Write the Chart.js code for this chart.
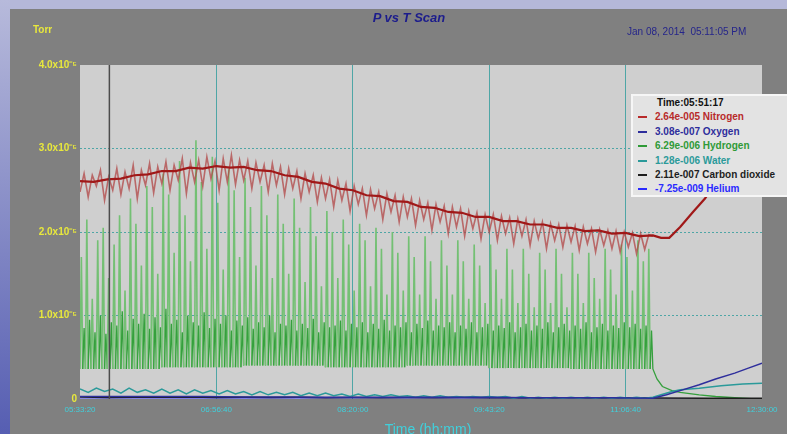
<!DOCTYPE html>
<html lang="en">
<head>
<meta charset="UTF-8">
<title>P vs T Scan</title>
<script src="https://cdn.jsdelivr.net/npm/chart.js"></script>
<style>
    body {
        margin: 0;
        width: 787px;
        height: 434px;
        overflow: hidden;
        position: relative;
        background: #b5b8d9;
        font-family: "Liberation Sans", Arial, sans-serif;
    }
    #edge {
        position: absolute; left: 0; top: 0; width: 10px; height: 434px;
        background: linear-gradient(#b7badb, #565eb2);
    }
    #panel {
        position: absolute; left: 10px; top: 9px; width: 777px; height: 425px;
        background: #808080;
    }
    #title {
        position: absolute; left: 409px; top: 10px; transform: translateX(-50%);
        font-size: 13px; font-weight: bold; font-style: italic; color: #1c1c8c;
        white-space: nowrap;
    }
    #unit {
        position: absolute; left: 33px; top: 24px;
        font-size: 10px; font-weight: bold; color: #e8e83c;
    }
    #stamp {
        position: absolute; left: 627px; top: 26px;
        font-size: 10px; color: #25258a; white-space: pre;
    }
    #xtitle {
        position: absolute; left: 428px; top: 421px; transform: translateX(-50%);
        font-size: 14px; color: #3fd0dc; white-space: nowrap;
    }
    #legend {
        position: absolute; left: 631px; top: 94px; width: 170px; height: 103px;
        box-sizing: border-box; background: #e3e3e3; border: 2px solid #f6f6f6;
        font-size: 10px; font-weight: bold; line-height: 14.4px;
    }
    #legend .row { position: relative; padding-left: 22px; white-space: nowrap; }
    #legend .row.time { padding-left: 24px; color: #111; }
    #legend .dash { position: absolute; left: 5px; top: 6px; width: 9px; height: 2px; }
</style>
</head>
<body>
<div id="edge"></div>
<div id="panel"><canvas id="scan"></canvas></div>
<div id="title">P vs T Scan</div>
<div id="unit">Torr</div>
<div id="stamp">Jan 08, 2014  05:11:05 PM</div>
<div id="xtitle">Time (hh:mm)</div>
<div id="legend"></div>

<script>
// x values are seconds after 05:33:20, y values are in units of 1e-5 Torr
var tickLabels = ['05:33:20', '06:56:40', '08:20:00', '09:43:20', '11:06:40', '12:30:00'];
var yTickLabels = ['0', '1.0x10\u207B\u2075', '2.0x10\u207B\u2075', '3.0x10\u207B\u2075', '4.0x10\u207B\u2075'];
var cursorTime = 1077; // 05:51:17

var legendTime = 'Time:05:51:17';
var legendNames = ['Nitrogen', 'Oxygen', 'Hydrogen', 'Water', 'Carbon dioxide', 'Helium'];
var legendValues = ['2.64e-005', '3.08e-007', '6.29e-006', '1.28e-006', '2.11e-007', '-7.25e-009'];
var legendColors = ['#b82a2a', '#2e2e9c', '#2f9a37', '#2b9a9a', '#1e1e1e', '#2b2bff'];

// nitrogen: slow trend, every 500 s
var n2Trend = [2.61, 2.60, 2.63, 2.64, 2.68, 2.69, 2.73, 2.73, 2.77, 2.76,
               2.79, 2.77, 2.78, 2.74, 2.73, 2.68, 2.66, 2.60, 2.58, 2.52,
               2.50, 2.44, 2.43, 2.37, 2.36, 2.30, 2.29, 2.24, 2.23, 2.18,
               2.18, 2.13, 2.13, 2.09, 2.09, 2.05, 2.05, 2.01, 2.02, 1.98,
               1.99, 1.95, 1.96];
var n2TailTimes  = [21300, 21600, 22000, 22470, 22910, 23320, 23830, 24380, 25000];
var n2TailValues = [1.93, 1.93, 2.06, 2.24, 2.40, 2.60, 2.90, 3.25, 3.60];
// nitrogen: scatter around the trend, every 150 s
var n2Noise = [2.48, 2.70, 2.42, 2.68, 2.55, 2.74, 2.38, 2.66, 2.50, 2.76,
               2.45, 2.72, 2.52, 2.80, 2.40, 2.74, 2.56, 2.82, 2.47, 2.78,
               2.58, 2.84, 2.50, 2.80, 2.62, 2.88, 2.46, 2.83, 2.60, 2.86,
               2.55, 2.90, 2.64, 2.85, 2.50, 2.88, 2.60, 2.92, 2.57, 2.86,
               2.62, 2.85, 2.52, 2.83, 2.60, 2.80, 2.48, 2.82, 2.56, 2.78,
               2.45, 2.76, 2.52, 2.73, 2.40, 2.70, 2.48, 2.68, 2.36, 2.65,
               2.40, 2.63, 2.30, 2.62, 2.38, 2.58, 2.25, 2.55, 2.33, 2.52,
               2.20, 2.51, 2.28, 2.48, 2.15, 2.46, 2.24, 2.44, 2.12, 2.42,
               2.18, 2.40, 2.08, 2.38, 2.15, 2.35, 2.02, 2.33, 2.12, 2.31,
               1.98, 2.30, 2.06, 2.28, 1.95, 2.25, 2.04, 2.23, 1.92, 2.21,
               2.00, 2.21, 1.90, 2.19, 1.98, 2.17, 1.86, 2.16, 1.95, 2.15,
               1.84, 2.13, 1.92, 2.12, 1.80, 2.10, 1.90, 2.09, 1.82, 2.08,
               1.88, 2.07, 1.78, 2.06, 1.86, 2.04, 1.76, 2.03, 1.84, 2.02,
               1.80, 2.01, 1.76, 2.00, 1.82, 1.99, 1.74, 1.98, 1.79, 1.97,
               1.95];

// hydrogen: one cycle every 200 s = floor, tall spike, floor, short spike
var h2Peak = [1.70, 2.15, 1.20, 1.90, 2.05, 1.45, 1.85, 2.20, 1.30, 2.40,
              2.10, 1.60, 2.55, 2.30, 1.50, 2.70, 2.45, 1.75, 2.85, 2.20,
              1.65, 3.10, 2.60, 1.80, 2.90, 2.35, 1.55, 2.75, 2.50, 1.70,
              2.65, 2.30, 1.60, 2.55, 2.20, 1.45, 2.45, 2.10, 1.50, 2.40,
              2.05, 1.40, 2.30, 1.95, 1.35, 2.25, 2.00, 1.45, 2.15, 1.85,
              1.30, 2.10, 1.90, 1.35, 2.05, 1.80, 1.25, 2.00, 1.75, 1.30,
              1.95, 1.70, 1.25, 1.95, 1.65, 1.20, 1.90, 1.60, 1.25, 1.90,
              1.65, 1.20, 1.85, 1.60, 1.15, 1.85, 1.55, 1.20, 1.80, 1.55,
              1.15, 1.80, 1.50, 1.10, 1.75, 1.55, 1.15, 1.80, 1.50, 1.10,
              1.75, 1.50, 1.15, 1.75, 1.45, 1.20, 1.80, 1.55, 1.25, 1.85,
              1.70, 1.30, 1.90, 1.65, 1.80];
var h2Mid = [0.85, 0.95, 0.80, 1.00, 0.78, 0.92, 0.88, 1.05, 0.82, 0.96,
             0.90, 1.02, 0.84, 0.98, 0.86, 1.08, 0.90, 0.95, 0.80, 1.00,
             0.92, 0.88, 1.04, 0.85, 0.96, 0.90, 1.00, 0.82, 0.94, 0.88,
             0.98, 0.84, 0.92, 0.86, 1.00, 0.80, 0.90, 0.88, 0.95, 0.82,
             0.90, 0.85, 0.96, 0.80, 0.92, 0.86, 0.88, 0.94, 0.82, 0.90,
             0.86, 0.92, 0.80, 0.90, 0.84, 0.95, 0.82, 0.88, 0.86, 0.92,
             0.80, 0.90, 0.85, 0.94, 0.82, 0.88, 0.86, 0.92, 0.80, 0.88,
             0.84, 0.92, 0.80, 0.86, 0.90, 0.82, 0.88, 0.85, 0.92, 0.80,
             0.86, 0.90, 0.82, 0.88, 0.84, 0.92, 0.80, 0.86, 0.90, 0.82,
             0.88, 0.84, 0.92, 0.80, 0.86, 0.90, 0.82, 0.88, 0.85, 0.92,
             0.86, 0.90, 0.84, 0.88, 0.82];
var h2Floor = [0.36, 0.38, 0.40, 0.38, 0.40, 0.37, 0.36]; // one per 15 cycles
var h2TailTimes  = [21000, 21150, 21350, 21700, 22000, 22700, 23300, 24000, 24600];
var h2TailValues = [0.36, 0.24, 0.15, 0.10, 0.08, 0.05, 0.03, 0.015, 0.005];

// water, every 300 s
var h2oValues = [0.12, 0.08, 0.13, 0.09, 0.12, 0.07, 0.13, 0.08, 0.11, 0.07,
                 0.12, 0.07, 0.11, 0.06, 0.11, 0.07, 0.10, 0.06, 0.10, 0.06,
                 0.09, 0.05, 0.09, 0.05, 0.08, 0.05, 0.08, 0.04, 0.07, 0.04,
                 0.07, 0.04, 0.06, 0.03, 0.06, 0.03, 0.05, 0.03, 0.05, 0.03,
                 0.04, 0.02, 0.04, 0.02, 0.04, 0.02, 0.03, 0.02, 0.03, 0.02,
                 0.03, 0.02, 0.03, 0.01, 0.03, 0.01, 0.02, 0.01, 0.02, 0.01,
                 0.02, 0.01, 0.02, 0.01, 0.02, 0.01, 0.02, 0.01, 0.02, 0.01,
                 0.02];
var h2oTailTimes  = [21300, 21700, 22000, 22700, 23500, 24300, 25000];
var h2oTailValues = [0.05, 0.09, 0.11, 0.13, 0.16, 0.18, 0.19];

// oxygen, every 1500 s
var o2Values = [0.03, 0.03, 0.03, 0.03, 0.025, 0.025, 0.02, 0.02, 0.02, 0.02,
                0.02, 0.015, 0.015, 0.015, 0.01];
var o2TailTimes  = [21500, 22000, 22700, 23300, 24000, 24500, 25000];
var o2TailValues = [0.05, 0.10, 0.17, 0.24, 0.31, 0.37, 0.43];

// carbon dioxide, every 1000 s
var co2Values = [0.025, 0.018, 0.022, 0.020, 0.024, 0.017, 0.021, 0.019, 0.020, 0.016,
                 0.019, 0.015, 0.018, 0.014, 0.017, 0.015, 0.016, 0.013, 0.015, 0.012,
                 0.014, 0.012];
var co2TailTimes  = [23000, 25000];
var co2TailValues = [0.010, 0.008];

// helium, every 5000 s
var heValues = [-0.001, 0.0, -0.001, 0.0, -0.001, 0.0];

function regular(values, step) {
    return values.map(function (v, i) { return { x: i * step, y: v }; });
}
function paired(times, values) {
    return times.map(function (t, i) { return { x: t, y: values[i] }; });
}

var h2Cycle = 200;
var h2Points = [];
h2Peak.forEach(function (p, i) {
    var t = i * h2Cycle;
    var floor = h2Floor[Math.floor(i / 15)];
    h2Points.push({ x: t, y: floor }, { x: t + 50, y: p }, { x: t + 100, y: floor }, { x: t + 150, y: h2Mid[i] });
});
h2Points = h2Points.concat(paired(h2TailTimes, h2TailValues));
var h2CycleCount = h2Peak.length * 4;
function isSpike(ctx) {
    return ctx.p0DataIndex < h2CycleCount && ctx.p0DataIndex % 4 < 2;
}

// legend box
var legendBox = document.getElementById('legend');
var timeRow = document.createElement('div');
timeRow.className = 'row time';
timeRow.textContent = legendTime;
legendBox.appendChild(timeRow);
legendNames.forEach(function (name, i) {
    var row = document.createElement('div');
    row.className = 'row';
    row.style.color = legendColors[i];
    var dash = document.createElement('span');
    dash.className = 'dash';
    dash.style.background = legendColors[i];
    row.appendChild(dash);
    row.appendChild(document.createTextNode(legendValues[i] + ' ' + name));
    legendBox.appendChild(row);
});

var plotBg = {
    id: 'plotBg',
    beforeDraw: function (chart) {
        var a = chart.chartArea, c = chart.ctx;
        c.save();
        c.fillStyle = '#cfcfcf';
        c.fillRect(a.left, a.top, a.right - a.left, a.bottom - a.top);
        c.restore();
    }
};
var cursorLine = {
    id: 'cursorLine',
    afterDatasetsDraw: function (chart) {
        var a = chart.chartArea, c = chart.ctx;
        var x = chart.scales.x.getPixelForValue(cursorTime);
        c.save();
        c.strokeStyle = '#4c4c4c';
        c.lineWidth = 1.5;
        c.beginPath();
        c.moveTo(x, a.top);
        c.lineTo(x, a.bottom);
        c.stroke();
        c.restore();
    }
};

Chart.defaults.font.family = '"Liberation Sans", Arial, sans-serif';

var canvas = document.getElementById('scan');
canvas.style.width = '777px';
canvas.style.height = '425px';
canvas.width = 777;
canvas.height = 425;

var edgeGrid = function (ctx) {
    return (ctx.index === 0 || ctx.index === ctx.scale.ticks.length - 1) ? 'rgba(0,0,0,0)' : '#4fa6a6';
};

var myChart = new Chart(canvas.getContext('2d'), {
    type: 'line',
    data: {
        datasets: [
            {
                label: 'Nitrogen',
                data: regular(n2Trend, 500).concat(paired(n2TailTimes, n2TailValues)),
                borderColor: '#a01818', borderWidth: 2.2, order: 0
            },
            {
                label: 'Nitrogen scatter',
                data: regular(n2Noise, 150),
                borderColor: 'rgba(178,70,70,0.75)', borderWidth: 1.6, order: 1
            },
            {
                label: 'Water',
                data: regular(h2oValues, 300).concat(paired(h2oTailTimes, h2oTailValues)),
                borderColor: '#2b9a9a', borderWidth: 1.5, order: 3
            },
            {
                label: 'Oxygen',
                data: regular(o2Values, 1500).concat(paired(o2TailTimes, o2TailValues)),
                borderColor: '#2e2e9c', borderWidth: 1.5, order: 2
            },
            {
                label: 'Carbon dioxide',
                data: regular(co2Values, 1000).concat(paired(co2TailTimes, co2TailValues)),
                borderColor: '#1e1e1e', borderWidth: 1.5, order: 4
            },
            {
                label: 'Helium',
                data: regular(heValues, 5000),
                borderColor: '#2b2bff', borderWidth: 1, order: 5
            },
            {
                label: 'Hydrogen',
                data: h2Points,
                borderColor: '#2f9a37', borderWidth: 1.5, order: 6,
                segment: {
                    borderColor: function (ctx) { return isSpike(ctx) ? '#74c074' : '#35a03d'; },
                    borderWidth: function (ctx) { return isSpike(ctx) ? 1.6 : 1.3; }
                }
            }
        ]
    },
    options: {
        responsive: false,
        animation: false,
        elements: { point: { radius: 0 }, line: { tension: 0 } },
        layout: { padding: { top: 56, right: 25, left: 0, bottom: 0 } },
        plugins: { legend: { display: false }, title: { display: false }, tooltip: { enabled: false } },
        scales: {
            x: {
                type: 'linear',
                min: 0,
                max: 25000,
                afterFit: function (scale) { scale.height = 35; },
                ticks: {
                    stepSize: 5000,
                    autoSkip: false,
                    maxRotation: 0,
                    padding: 6,
                    color: '#3fd0dc',
                    font: { size: 8 },
                    callback: function (value, index) { return tickLabels[index]; }
                },
                grid: { color: edgeGrid, lineWidth: 1, drawTicks: false },
                border: { display: false }
            },
            y: {
                min: 0,
                max: 4,
                afterFit: function (scale) { scale.width = 70; },
                ticks: {
                    stepSize: 1,
                    padding: 3,
                    color: '#e8e83c',
                    font: { size: 10, weight: 'bold' },
                    callback: function (value, index) { return yTickLabels[index]; }
                },
                grid: { color: edgeGrid, lineWidth: 1, drawTicks: false },
                border: { display: false, dash: [2, 2] }
            }
        }
    },
    plugins: [plotBg, cursorLine]
});
</script>
</body>
</html>
